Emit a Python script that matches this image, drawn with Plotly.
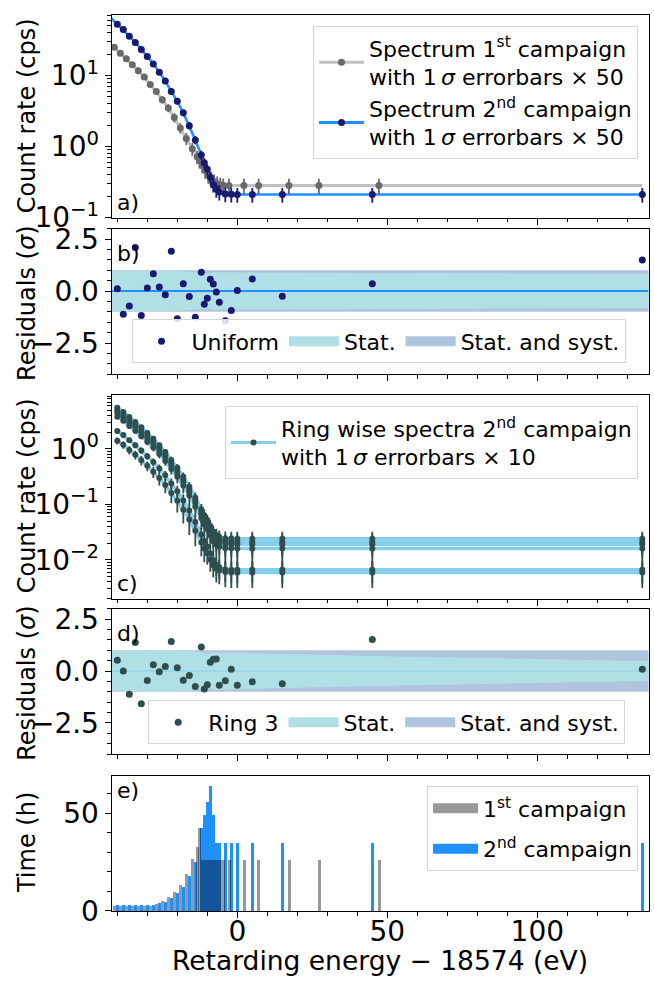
import plotly.graph_objects as go

W, H = 654, 988
FONT = "DejaVu Sans"
X_MIN, X_MAX = -41.87, 137.13

# ---------------- data ----------------
# 2nd campaign retarding energies (qU - 18574 eV)
qU2 = [-40, -38, -36, -34, -32, -30, -28, -26, -24, -22, -20, -18, -16, -14,
       -12, -11, -10, -9, -8, -7, -6, -4, -2, 0, 5, 15, 45, 135]
rate2 = [52.4, 44.3, 35.7, 29.2, 23.3, 18.5, 14.5, 11.1, 8.34, 5.96, 4.33, 2.98, 1.97, 1.24,
         0.76, 0.59, 0.48, 0.37, 0.29, 0.25, 0.23, 0.215, 0.213, 0.212, 0.212, 0.212, 0.212, 0.212]
err2 = [1.5, 1.4, 1.2, 1.1, 1.0, 0.9, 0.8, 0.7, 0.55, 0.45, 0.38, 0.3, 0.23, 0.16,
        0.11, 0.095, 0.085, 0.075, 0.065, 0.06, 0.055, 0.05, 0.05, 0.05, 0.05, 0.05, 0.05, 0.05]
model2_x = [-42.0] + qU2
model2_y = [64.0] + rate2

# 1st campaign
qU1 = [-41, -39, -37, -35, -33, -31, -29, -27, -25, -23, -21, -19, -17, -15,
       -13.4, -12.6, -11.7, -10.7, -9.7, -8.7, -7.7, -6.7, -5.7, -4.7, -2.8, 2.2, 7.1, 17.2, 27.2, 47.2]
rate1 = [24.9, 20.6, 17.2, 14.2, 11.7, 9.5, 7.5, 5.96, 4.55, 3.5, 2.57, 1.83, 1.30, 0.93,
         0.72, 0.63, 0.54, 0.46, 0.40, 0.35, 0.32, 0.30, 0.29, 0.285, 0.283, 0.283, 0.283, 0.283, 0.283, 0.283]
err1 = [1.0, 0.95, 0.9, 0.8, 0.75, 0.7, 0.6, 0.55, 0.5, 0.45, 0.38, 0.3, 0.25, 0.19,
        0.15, 0.14, 0.12, 0.11, 0.1, 0.09, 0.085, 0.08, 0.075, 0.07, 0.07, 0.07, 0.07, 0.07, 0.07, 0.07]
model1_x = [-42.0] + qU1 + [135.0]
model1_y = [26.5] + rate1 + [0.283]

# residuals, uniform fit (2nd campaign)
res_uniform = [0.11, -1.12, -0.72, 2.10, -1.18, 0.15, 0.83, 0.20, -0.18, 1.92, -1.33, 0.35, -0.26, -1.26,
               0.90, -0.64, -0.35, 0.57, 0.34, -0.05, -0.54, -1.43, -0.94, 0.03, 0.58, -0.25, 0.35, 1.49]
stat_b = [0.98, 0.98, 0.98, 0.98, 0.98, 0.98, 0.98, 0.98, 0.98, 0.97, 0.96, 0.94, 0.92, 0.90,
          0.88, 0.86, 0.85, 0.84, 0.90, 0.90, 0.90, 0.90, 0.90, 0.90, 0.89, 0.88, 0.86, 0.82]
syst_halfwidth = 1.0

# ring-wise spectra (2nd campaign)
ring_A = [5.52, 4.67, 3.76, 3.08, 2.46, 1.95, 1.53, 1.17, 0.881, 0.630, 0.458, 0.316, 0.209, 0.132,
          0.0818, 0.0638, 0.0523, 0.0407, 0.0322, 0.0280, 0.0259, 0.0243, 0.0241, 0.024, 0.024, 0.024, 0.024, 0.024]
ring_B = [5.02, 4.25, 3.42, 2.80, 2.23, 1.77, 1.39, 1.07, 0.800, 0.572, 0.416, 0.287, 0.190, 0.120,
          0.0735, 0.0572, 0.0467, 0.0362, 0.0285, 0.0247, 0.0227, 0.0213, 0.0211, 0.021, 0.021, 0.021, 0.021, 0.021]
ring_C = [4.52, 3.82, 3.08, 2.52, 2.01, 1.60, 1.25, 0.958, 0.720, 0.515, 0.374, 0.258, 0.171, 0.108,
          0.0663, 0.0516, 0.0421, 0.0326, 0.0257, 0.0223, 0.0205, 0.0193, 0.0191, 0.019, 0.019, 0.019, 0.019, 0.019]
ring_D = [3.82, 3.23, 2.60, 2.13, 1.70, 1.35, 1.06, 0.809, 0.608, 0.435, 0.316, 0.218, 0.144, 0.0909,
          0.0559, 0.0435, 0.0355, 0.0275, 0.0217, 0.0188, 0.0173, 0.0162, 0.0161, 0.016, 0.016, 0.016, 0.016, 0.016]
ring_E = [2.11, 1.78, 1.44, 1.17, 0.936, 0.742, 0.582, 0.445, 0.334, 0.238, 0.172, 0.118, 0.0774, 0.0480,
          0.0287, 0.0218, 0.0174, 0.0130, 0.0097, 0.0081, 0.0073, 0.0067, 0.0066, 0.0066, 0.0066, 0.0066, 0.0066, 0.0066]
ring_F = [1.41, 1.19, 0.958, 0.784, 0.625, 0.496, 0.389, 0.298, 0.224, 0.160, 0.116, 0.0802, 0.0531, 0.0335,
          0.0206, 0.0160, 0.0131, 0.0101, 0.0080, 0.0069, 0.0064, 0.0060, 0.0059, 0.0059, 0.0059, 0.0059, 0.0059, 0.0059]
ring_err_hi = [0.33, 0.3, 0.27, 0.24, 0.2, 0.18, 0.15, 0.13, 0.11, 0.09, 0.075, 0.06, 0.045, 0.032,
               0.02, 0.016, 0.013, 0.011, 0.009, 0.0085, 0.008, 0.008, 0.008, 0.008, 0.008, 0.008, 0.008, 0.008]
ring_err_lo = [0.2, 0.18, 0.16, 0.14, 0.12, 0.1, 0.09, 0.08, 0.065, 0.055, 0.045, 0.035, 0.025, 0.016,
               0.009, 0.007, 0.005, 0.004, 0.0032, 0.003, 0.0028, 0.0028, 0.0028, 0.0028, 0.0028, 0.0028, 0.0028, 0.0028]
rings = [(ring_A, ring_err_hi), (ring_B, ring_err_hi), (ring_C, ring_err_hi),
         (ring_D, ring_err_hi), (ring_E, ring_err_lo), (ring_F, ring_err_lo)]

# residuals, ring 3
res_ring3 = [0.52, 0.0, -1.12, 1.37, -1.57, -0.46, 0.30, -0.03, 0.22, 1.42, 0.16, -0.44, -0.22, -0.74,
             1.15, -0.86, -0.66, 0.42, 0.57, 0.58, -0.68, -0.47, 0.08, -0.69, -0.52, -0.61, 1.51, 0.09]
stat_d = [0.98, 0.98, 0.98, 0.98, 0.98, 0.98, 0.98, 0.98, 0.98, 0.98, 0.98, 0.98, 0.96, 0.93,
          0.88, 0.86, 0.84, 0.83, 0.90, 0.90, 0.90, 0.90, 0.89, 0.88, 0.86, 0.82, 0.72, 0.48]

# measurement time (h)
time2 = [3.2, 3.2, 3.2, 3.2, 3.2, 3.2, 3.2, 4.2, 5.0, 7.0, 9.3, 12.6, 17.8, 25.3,
         42.5, 49, 56, 64, 49, 35, 35, 35, 35, 35, 35, 35, 35, 35]
time1 = [2.7, 2.7, 2.7, 2.7, 2.7, 2.7, 2.7, 3.8, 5.2, 7.1, 9.8, 13.6, 19.0, 26.6,
         33, 42.5, 26.3, 26.3, 26.3, 26.3, 26.3, 26.3, 26.3, 26.3, 26.3, 26.3, 26.3, 26.3, 26.3, 26.3]

# ---------------- colours ----------------
C_GRAY_LINE = "#c0c0c0"
C_GRAY_PT = "#696969"
C_NAVY = "#191970"
C_BLUE = "#1e90ff"
C_SKY = "#87ceeb"
C_DSG = "#2f4f4f"
C_STAT = "#b0e0e6"
C_SYST = "#b0c4de"
C_GRAYBAR = "rgba(0,0,0,0.4)"

fig = go.Figure()


def legend_patch(color, name, leg, rank, xa, ya):
    """Legend-only entry drawn as a thick bar (patch)."""
    fig.add_trace(go.Scatter(x=[None], y=[None], mode="lines", line=dict(color=color, width=14),
                             name=name, legend=leg, legendrank=rank, legendgroup=name,
                             xaxis=xa, yaxis=ya))


# ---- panel a ----
fig.add_trace(go.Scatter(x=model1_x, y=model1_y, mode="lines", line=dict(color=C_GRAY_LINE, width=3),
                         showlegend=False, xaxis="x", yaxis="y"))
fig.add_trace(go.Scatter(x=model2_x, y=model2_y, mode="lines", line=dict(color=C_BLUE, width=2.5),
                         showlegend=False, xaxis="x", yaxis="y"))
fig.add_trace(go.Scatter(x=qU1, y=rate1, mode="markers", marker=dict(color=C_GRAY_PT, size=7),
                         error_y=dict(type="data", array=err1, width=0, thickness=1.8, color=C_GRAY_PT),
                         showlegend=False, xaxis="x", yaxis="y"))
fig.add_trace(go.Scatter(x=qU2, y=rate2, mode="markers", marker=dict(color=C_NAVY, size=7),
                         error_y=dict(type="data", array=err2, width=0, thickness=1.8, color=C_NAVY),
                         showlegend=False, xaxis="x", yaxis="y"))
fig.add_trace(go.Scatter(x=[None], y=[None], mode="lines+markers",
                         line=dict(color=C_GRAY_LINE, width=3), marker=dict(color=C_GRAY_PT, size=7),
                         name="Spectrum 1<sup>st</sup> campaign<br>with 1\u2009<i>σ</i> errorbars × 50",
                         legend="legend", xaxis="x", yaxis="y"))
fig.add_trace(go.Scatter(x=[None], y=[None], mode="lines+markers",
                         line=dict(color=C_BLUE, width=3), marker=dict(color=C_NAVY, size=7),
                         name="Spectrum 2<sup>nd</sup> campaign<br>with 1\u2009<i>σ</i> errorbars × 50",
                         legend="legend", xaxis="x", yaxis="y"))


def band_polygon(halfwidths):
    bx = [X_MIN] + qU2 + [X_MAX]
    hw = [halfwidths[0]] + list(halfwidths) + [halfwidths[-1]]
    up = list(hw)
    lo = [-h for h in hw]
    return bx + bx[::-1], up + lo[::-1]


def residual_panel(xa, ya, res, stat, dot_color, zero_color, zero_width, name, leg):
    sx, sy = band_polygon([syst_halfwidth] * len(qU2))
    fig.add_trace(go.Scatter(x=sx, y=sy, fill="toself", fillcolor=C_SYST, line=dict(width=0),
                             mode="lines", showlegend=False, xaxis=xa, yaxis=ya, hoverinfo="skip"))
    tx, ty = band_polygon(stat)
    fig.add_trace(go.Scatter(x=tx, y=ty, fill="toself", fillcolor=C_STAT, line=dict(width=0),
                             mode="lines", showlegend=False, xaxis=xa, yaxis=ya, hoverinfo="skip"))
    fig.add_trace(go.Scatter(x=[X_MIN, X_MAX], y=[0, 0], mode="lines",
                             line=dict(color=zero_color, width=zero_width),
                             showlegend=False, xaxis=xa, yaxis=ya))
    fig.add_trace(go.Scatter(x=qU2, y=res, mode="markers", marker=dict(color=dot_color, size=7),
                             name=name, legend=leg, legendrank=1, xaxis=xa, yaxis=ya))
    legend_patch(C_STAT, "Stat.", leg, 2, xa, ya)
    legend_patch(C_SYST, "Stat. and syst.", leg, 3, xa, ya)


# ---- panel b ----
residual_panel("x2", "y2", res_uniform, stat_b, C_NAVY, C_BLUE, 2, "Uniform", "legend2")

# ---- panel c ----
for vals, errs in rings:
    fig.add_trace(go.Scatter(x=qU2, y=vals, mode="lines", line=dict(color=C_SKY, width=3.5),
                             showlegend=False, xaxis="x3", yaxis="y3"))
for vals, errs in rings:
    fig.add_trace(go.Scatter(x=qU2, y=vals, mode="markers", marker=dict(color=C_DSG, size=6),
                             error_y=dict(type="data", array=errs, width=0, thickness=1.8, color=C_DSG),
                             showlegend=False, xaxis="x3", yaxis="y3"))
fig.add_trace(go.Scatter(x=[None], y=[None], mode="lines+markers",
                         line=dict(color=C_SKY, width=3), marker=dict(color=C_DSG, size=6),
                         name="Ring wise spectra 2<sup>nd</sup> campaign<br>with 1\u2009<i>σ</i> errorbars × 10",
                         legend="legend3", xaxis="x3", yaxis="y3"))

# ---- panel d ----
residual_panel("x4", "y4", res_ring3, stat_d, C_DSG, C_SKY, 1.2, "Ring 3", "legend4")

# ---- panel e ----
fig.add_trace(go.Bar(x=qU2, y=time2, width=1.0, marker=dict(color=C_BLUE, line=dict(width=0)),
                     showlegend=False, xaxis="x5", yaxis="y5"))
fig.add_trace(go.Bar(x=qU1, y=time1, width=1.0, marker=dict(color=C_GRAYBAR, line=dict(width=0)),
                     showlegend=False, xaxis="x5", yaxis="y5"))
legend_patch(C_GRAYBAR, "1<sup>st</sup> campaign", "legend5", 1, "x5", "y5")
legend_patch(C_BLUE, "2<sup>nd</sup> campaign", "legend5", 2, "x5", "y5")

# ---------------- layout ----------------
def dom(top, bot):
    return [1 - bot / H, 1 - top / H]

XD = [111.7 / W, 648.7 / W]
TICKF = dict(family=FONT, size=28, color="black")
axis_common = dict(showline=True, linecolor="black", linewidth=1.3, mirror=True,
                   ticks="outside", tickcolor="black", tickwidth=1.3, ticklen=6,
                   showgrid=False, zeroline=False, tickfont=TICKF)
MINOR = dict(ticks="outside", ticklen=3.5, tickcolor="black", tickwidth=1.1, showgrid=False)

panels = [
    ("", dom(9.3, 216.7)),
    ("2", dom(228, 377)),
    ("3", dom(398.5, 606.7)),
    ("4", dom(617, 766)),
    ("5", dom(788, 926.5)),
]

layout = dict(width=W, height=H, margin=dict(l=0, r=0, t=0, b=0),
              paper_bgcolor="white", plot_bgcolor="white",
              font=dict(family=FONT, size=22, color="black"),
              barmode="overlay", bargap=0, hovermode=False)

for i, (s, yd) in enumerate(panels):
    ax = dict(axis_common)
    ax.update(domain=XD, range=[X_MIN, X_MAX], anchor="y" + s,
              tickvals=[0, 50, 100], ticktext=["0", "50", "100"],
              showticklabels=(s == "5"),
              minor=dict(MINOR, tickvals=[v for v in range(-40, 140, 10) if v % 50 != 0]))
    if s != "":
        ax["matches"] = "x"
    if s == "5":
        ax["ticklabelstandoff"] = -11
    layout["xaxis" + s] = ax

log_minor_a = [m * 10 ** e for e in (-1, 0, 1) for m in range(2, 10)]
log_minor_c = [m * 10 ** e for e in (-3, -2, -1, 0) for m in range(2, 10)]

ya = dict(axis_common)
ya.update(domain=panels[0][1], anchor="x", type="log", range=[-1.0, 1.85],
          tickvals=[0.1, 1, 10], ticktext=["10<sup>−1</sup>", "10<sup>0</sup>", "10<sup>1</sup>"],
          minor=dict(MINOR, tickvals=log_minor_a))
layout["yaxis"] = ya

for s, yd in (("2", panels[1][1]), ("4", panels[3][1])):
    yr = dict(axis_common)
    yr.update(domain=yd, anchor="x" + s, range=[-4.0, 3.0],
              tickvals=[-2.5, 0, 2.5], ticktext=["−2.5", "0.0", "2.5"],
              minor=dict(MINOR, tick0=0, dtick=0.5))
    layout["yaxis" + s] = yr

yc = dict(axis_common)
yc.update(domain=panels[2][1], anchor="x3", type="log", range=[-2.70, 0.97],
          tickvals=[0.01, 0.1, 1], ticktext=["10<sup>−2</sup>", "10<sup>−1</sup>", "10<sup>0</sup>"],
          minor=dict(MINOR, tickvals=log_minor_c))
layout["yaxis3"] = yc

ye = dict(axis_common)
ye.update(domain=panels[4][1], anchor="x5", range=[0, 69.2],
          tickvals=[0, 50], ticktext=["0", "50"],
          minor=dict(MINOR, tick0=0, dtick=10))
layout["yaxis5"] = ye

LEG = dict(bordercolor="#d6d6d6", borderwidth=1, bgcolor="rgba(255,255,255,0.85)",
           font=dict(family=FONT, size=22, color="black"), itemwidth=45)
layout["legend"] = dict(LEG, x=638 / W, xanchor="right", y=1 - 20.7 / H, yanchor="top",
                        tracegroupgap=6)
layout["legend2"] = dict(LEG, orientation="h", x=378.5 / W, xanchor="center",
                         y=1 - 366 / H, yanchor="bottom", itemwidth=50)
layout["legend3"] = dict(LEG, x=638 / W, xanchor="right", y=1 - 410 / H, yanchor="top")
layout["legend4"] = dict(LEG, orientation="h", x=386.7 / W, xanchor="center",
                         y=1 - 756 / H, yanchor="bottom", itemwidth=50)
layout["legend5"] = dict(LEG, x=638 / W, xanchor="right", y=1 - 799 / H, yanchor="top",
                         tracegroupgap=9)

fig.update_layout(**layout)

# panel labels
for txt, ypx in (("a)", 201), ("b)", 253), ("c)", 591), ("d)", 642), ("e)", 803)):
    fig.add_annotation(text=txt, xref="paper", yref="paper", x=115 / W, y=1 - ypx / H,
                       xanchor="left", yanchor="middle", showarrow=False,
                       font=dict(family=FONT, size=22, color="black"))

# y-axis titles
for txt, ypx in (("Count rate (cps)", 113), ("Residuals (<i>σ</i>)", 305),
                 ("Count rate (cps)", 502), ("Residuals (<i>σ</i>)", 694), ("Time (h)", 857)):
    fig.add_annotation(text=txt, xref="paper", yref="paper", x=27 / W, y=1 - ypx / H,
                       xanchor="center", yanchor="middle", textangle=-90, showarrow=False,
                       font=dict(family=FONT, size=24, color="black"))

fig.add_annotation(text="Retarding energy − 18574 (eV)", xref="paper", yref="paper",
                   x=380 / W, y=1 - 977 / H, xanchor="center", yanchor="middle", showarrow=False,
                   font=dict(family=FONT, size=26.5, color="black"))

fig.write_html("out.html")
